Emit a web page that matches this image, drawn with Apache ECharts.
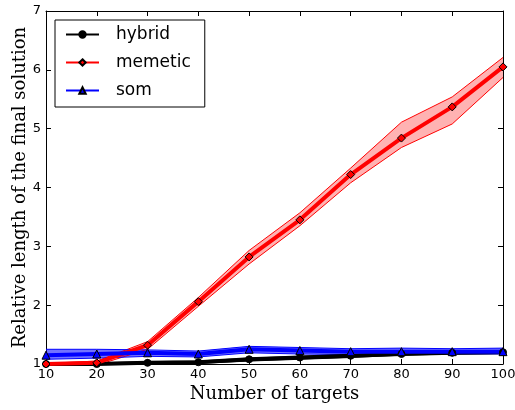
<!DOCTYPE html>
<html>
<head>
<meta charset="utf-8">
<script src="https://cdn.jsdelivr.net/npm/echarts@6/dist/echarts.min.js"></script>
<style>
  html, body { margin: 0; padding: 0; background: #fff; }
  #chart { width: 515px; height: 410px; }
</style>
</head>
<body>
<div id="chart"></div>
<script>
// data
const targets = ["10", "20", "30", "40", "50", "60", "70", "80", "90", "100"];

const hybridMean = [1.00, 1.00, 1.02, 1.03, 1.08, 1.11, 1.14, 1.17, 1.19, 1.20];
const hybridLow  = [0.98, 0.98, 1.00, 1.01, 1.05, 1.08, 1.11, 1.15, 1.17, 1.18];
const hybridHigh = [1.02, 1.02, 1.04, 1.05, 1.10, 1.13, 1.16, 1.19, 1.21, 1.22];

const memeticMean = [1.00, 1.02, 1.32, 2.06, 2.82, 3.45, 4.22, 4.84, 5.37, 6.05];
const memeticLow  = [0.99, 0.98, 1.25, 1.98, 2.70, 3.35, 4.08, 4.68, 5.08, 5.87];
const memeticHigh = [1.01, 1.05, 1.38, 2.13, 2.93, 3.57, 4.33, 5.11, 5.54, 6.21];

const somMean = [1.15, 1.17, 1.19, 1.17, 1.25, 1.23, 1.21, 1.21, 1.21, 1.21];
const somLow  = [1.08, 1.10, 1.13, 1.12, 1.19, 1.17, 1.16, 1.17, 1.17, 1.17];
const somHigh = [1.25, 1.25, 1.24, 1.22, 1.30, 1.28, 1.26, 1.27, 1.26, 1.27];

const yTicks = [1, 2, 3, 4, 5, 6, 7];

const chart = echarts.init(document.getElementById("chart"));

// band = lower edge line + stacked (high - low) area
function band(key, low, high, color, fill) {
  return [
    {
      name: key + "-low",
      type: "line",
      stack: key,
      data: low,
      symbol: "none",
      silent: true,
      lineStyle: { width: 1, color: color },
      z: 1
    },
    {
      name: key + "-band",
      type: "line",
      stack: key,
      data: high.map((h, i) => +(h - low[i]).toFixed(3)),
      symbol: "none",
      silent: true,
      lineStyle: { width: 1, color: color },
      areaStyle: { color: fill, opacity: 1 },
      z: 1
    }
  ];
}

function meanLine(name, data, color, symbol, size) {
  return {
    name: name,
    type: "line",
    data: data,
    symbol: symbol,
    symbolSize: size,
    showAllSymbol: true,
    lineStyle: { width: 4, color: color },
    itemStyle: { color: color, borderColor: "#000", borderWidth: 1 },
    z: 3
  };
}

const tickFont = { fontFamily: "DejaVu Sans", fontSize: 13, color: "#000" };

chart.setOption({
  animation: false,
  grid: { left: 46, right: 12, top: 11, bottom: 46, outerBoundsMode: "none", containLabel: false },
  legend: {
    data: ["hybrid", "memetic", "som"],
    orient: "vertical",
    left: 55,
    top: 20,
    padding: [6, 14, 8, 10],
    itemWidth: 33,
    itemHeight: 8,
    itemGap: 11,
    borderColor: "#000",
    borderWidth: 1,
    borderRadius: 0,
    textStyle: {
      fontFamily: "DejaVu Sans",
      fontSize: 17,
      color: "#000",
      padding: [0, 0, 0, 12]
    }
  },
  xAxis: [
    {
      type: "category",
      data: targets,
      boundaryGap: false,
      name: "Number of targets",
      nameLocation: "middle",
      nameGap: 21,
      nameMoveOverlap: false,
      nameTextStyle: { fontFamily: "DejaVu Serif", fontSize: 18, color: "#000" },
      axisLine: { lineStyle: { color: "#000", width: 1 } },
      axisTick: { inside: true, length: 5, alignWithLabel: true, lineStyle: { color: "#000" } },
      axisLabel: Object.assign({ margin: 4, interval: 0 }, tickFont),
      splitLine: { show: false }
    },
    {
      type: "category",
      data: targets,
      boundaryGap: false,
      position: "top",
      axisLine: { lineStyle: { color: "#000", width: 1 } },
      axisTick: { inside: true, length: 5, lineStyle: { color: "#000" } },
      axisLabel: { show: false }
    }
  ],
  yAxis: [
    {
      type: "value",
      min: yTicks[0],
      max: yTicks[yTicks.length - 1],
      interval: 1,
      name: "Relative length of the final solution",
      nameLocation: "middle",
      nameGap: 17,
      nameMoveOverlap: false,
      nameTextStyle: { fontFamily: "DejaVu Serif", fontSize: 18, color: "#000" },
      axisLine: { show: true, lineStyle: { color: "#000", width: 1 } },
      axisTick: { show: true, inside: true, length: 5, lineStyle: { color: "#000" } },
      axisLabel: Object.assign({ margin: 5 }, tickFont),
      splitLine: { show: false }
    },
    {
      type: "value",
      min: yTicks[0],
      max: yTicks[yTicks.length - 1],
      interval: 1,
      position: "right",
      axisLine: { show: true, lineStyle: { color: "#000", width: 1 } },
      axisTick: { show: true, inside: true, length: 5, lineStyle: { color: "#000" } },
      axisLabel: { show: false },
      splitLine: { show: false }
    }
  ],
  series: [
    ...band("hybrid", hybridLow, hybridHigh, "#000", "rgba(0,0,0,0.3)"),
    meanLine("hybrid", hybridMean, "#000", "circle", 7),
    ...band("memetic", memeticLow, memeticHigh, "#ff0000", "rgba(255,0,0,0.3)"),
    meanLine("memetic", memeticMean, "#ff0000", "diamond", 8),
    ...band("som", somLow, somHigh, "#0000ff", "rgba(0,0,255,0.55)"),
    meanLine("som", somMean, "#0000ff", "triangle", 8)
  ]
});
</script>
</body>
</html>
